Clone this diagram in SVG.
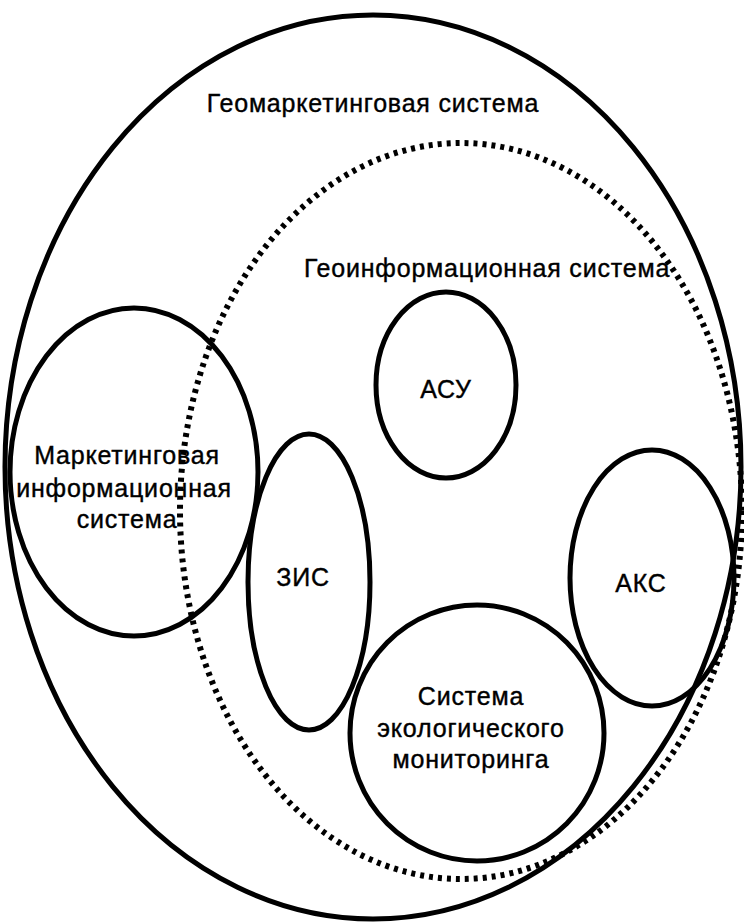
<svg xmlns="http://www.w3.org/2000/svg" width="744" height="922" viewBox="0 0 744 922">
<style>
.e{fill:none;stroke:#000;stroke-width:5}
.d{fill:none;stroke:#000;stroke-width:6;stroke-dasharray:4 5}
text{font-family:"Liberation Sans",Arial,sans-serif;font-size:25px;letter-spacing:0.8px;fill:#000;stroke:#000;stroke-width:0.4;text-anchor:middle}
</style>
<rect width="744" height="922" fill="#fff"/>
<g id="geomarketing">
<ellipse class="e" cx="373" cy="467" rx="368" ry="452"/>
<text x="373" y="112">Геомаркетинговая система</text>
</g>
<g id="gis">
<ellipse class="d" cx="461" cy="511" rx="281" ry="368"/>
<text x="487" y="277">Геоинформационная система</text>
</g>
<g id="mis">
<ellipse class="e" cx="134" cy="472" rx="124" ry="164"/>
<text x="127" y="464">Маркетинговая</text>
<text x="124" y="497">информационная</text>
<text x="127" y="528">система</text>
</g>
<g id="asu">
<ellipse class="e" cx="446" cy="385" rx="70" ry="93"/>
<text x="446" y="398">АСУ</text>
</g>
<g id="zis">
<ellipse class="e" cx="309" cy="582" rx="61" ry="148"/>
<text x="303" y="586">ЗИС</text>
</g>
<g id="aks">
<ellipse class="e" cx="652" cy="578" rx="82" ry="128"/>
<text x="641" y="592">АКС</text>
</g>
<g id="eco">
<ellipse class="e" cx="477" cy="733" rx="127" ry="128"/>
<text x="471" y="705">Система</text>
<text x="471" y="737">экологического</text>
<text x="471" y="768">мониторинга</text>
</g>
<g id="connectors"></g>
</svg>
